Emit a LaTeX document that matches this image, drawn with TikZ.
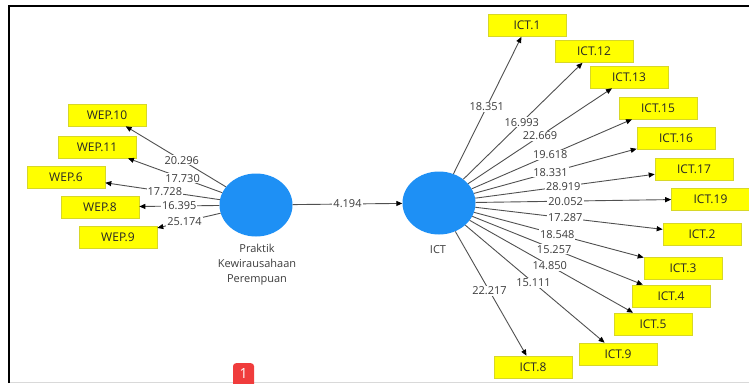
\documentclass[tikz,border=0pt]{standalone}
\usepackage{fontspec}
\setmainfont{Open Sans}
\usetikzlibrary{arrows.meta,shapes.geometric}
\definecolor{lv}{RGB}{30,144,245}
\definecolor{ind}{RGB}{255,255,0}
\definecolor{indb}{RGB}{215,215,40}
\definecolor{ln}{RGB}{80,80,80}
\definecolor{tx}{RGB}{60,60,60}
\definecolor{badgered}{RGB}{240,60,60}
\begin{document}
\begin{tikzpicture}[x=1pt,y=-1pt,
  latent/.style={ellipse, fill=lv, minimum width=73pt, minimum height=63pt, inner sep=0pt},
  indbox/.style={rectangle, fill=ind, draw=indb, line width=0.6pt, minimum width=78pt, minimum height=22pt, inner sep=0pt, font=\fontsize{12}{13}\selectfont, text=black!85},
  pathline/.style={draw=ln, line width=0.9pt, -{Triangle[length=6pt,width=5pt,color=black]}},
  wt/.style={fill=white, inner sep=1pt, font=\fontsize{11}{13}\selectfont, text=tx},
  lvlabel/.style={text=tx, align=center, font=\fontsize{11}{15}\selectfont}]
\useasboundingbox (0,0) rectangle (749,383);
% frame
\draw[black!15, line width=1pt] (9,382.5) -- (749,382.5);
\draw[black, line width=2.3pt] (9,383) -- (9,6.2) -- (749,6.2);

% latent variables
\node[latent] (P) at (256,205) {};
\node[latent] (C) at (439,203) {};
\node[lvlabel] (Plab) at (257,265) {Praktik\\Kewirausahaan\\Perempuan};
\node[lvlabel] (Clab) at (438,250) {ICT};

% WEP indicators
\node[indbox] (W10) at (107,115) {WEP.10};
\node[indbox] (W11) at (97,147) {WEP.11};
\node[indbox] (W6) at (66,177) {WEP.6};
\node[indbox] (W8) at (100,207) {WEP.8};
\node[indbox] (W9) at (118,237) {WEP.9};

% ICT indicators
\node[indbox] (I1) at (527,25.5) {ICT.1};
\node[indbox] (I12) at (594,51.5) {ICT.12};
\node[indbox] (I13) at (629,77) {ICT.13};
\node[indbox] (I15) at (658,108) {ICT.15};
\node[indbox] (I16) at (676,138) {ICT.16};
\node[indbox] (I17) at (694,169) {ICT.17};
\node[indbox] (I19) at (710.5,199) {ICT.19};
\node[indbox] (I2) at (702,234) {ICT.2};
\node[indbox] (I3) at (683,268) {ICT.3};
\node[indbox] (I4) at (671,296) {ICT.4};
\node[indbox] (I5) at (653,324) {ICT.5};
\node[indbox] (I9) at (618,354) {ICT.9};
\node[indbox] (I8) at (533,367) {ICT.8};

% WEP paths
\draw[pathline] (P) -- node[wt,pos=.44] {20.296} (W10);
\draw[pathline] (P) -- node[wt,pos=.42] {17.730} (W11);
\draw[pathline] (P) -- node[wt,pos=.48] {17.728} (W6);
\draw[pathline] (P) -- node[wt,pos=.50] {16.395} (W8);
\draw[pathline] (P) -- node[wt,pos=.57] {25.174} (W9);

% structural path
\draw[pathline] (P) -- node[wt,pos=.5] {4.194} (C);

% ICT paths
\draw[pathline] (C) -- node[wt,pos=.49] {18.351} (I1);
\draw[pathline] (C) -- node[wt,pos=.49] {16.993} (I12);
\draw[pathline] (C) -- node[wt,pos=.50] {22.669} (I13);
\draw[pathline] (C) -- node[wt,pos=.49] {19.618} (I15);
\draw[pathline] (C) -- node[wt,pos=.47] {18.331} (I16);
\draw[pathline] (C) -- node[wt,pos=.49] {28.919} (I17);
\draw[pathline] (C) -- node[wt,pos=.46] {20.052} (I19);
\draw[pathline] (C) -- node[wt,pos=.48] {17.287} (I2);
\draw[pathline] (C) -- node[wt,pos=.49] {18.548} (I3);
\draw[pathline] (C) -- node[wt,pos=.48] {15.257} (I4);
\draw[pathline] (C) -- node[wt,pos=.49] {14.850} (I5);
\draw[pathline] (C) -- node[wt,pos=.49] {15.111} (I9);
\draw[pathline] (C) -- node[wt,pos=.48] {22.217} (I8);

% badge
\node[fill=badgered, rounded corners=3pt, anchor=north, minimum width=21pt, inner xsep=0pt, inner ysep=3pt, text height=12pt, text depth=10pt, text=white, font=\fontsize{14}{14}\selectfont] (badge) at (243.5,363) {1};
\end{tikzpicture}
\end{document}
